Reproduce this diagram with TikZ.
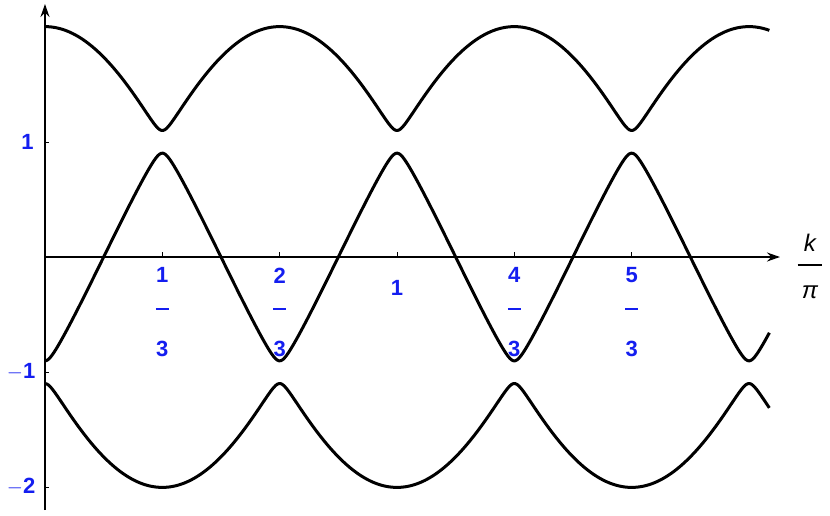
\documentclass[tikz,border=0pt]{standalone}
\usepackage{fontspec}
\setmainfont{Liberation Sans}
\usetikzlibrary{arrows.meta}
\definecolor{lblblue}{RGB}{20,30,240}
\begin{document}
\begin{tikzpicture}[x=352pt,y=115pt,
  band/.style={line width=3pt,black,line join=round},
  lbl/.style={text=lblblue,font=\fontsize{22}{24}\selectfont\bfseries,inner sep=0pt},
  fbar/.style={draw=lblblue,line width=2.4pt},
  declare function={
    fa(\x)=max(2*cos(180*\x),2*cos(180*\x+120),2*cos(180*\x+240));
    fc(\x)=min(2*cos(180*\x),2*cos(180*\x+120),2*cos(180*\x+240));
    fb(\x)=-fa(\x)-fc(\x);
    eone(\x)=(fa(\x)+fb(\x))/2+sqrt(((fa(\x)-fb(\x))/2)^2+0.01);
    ethree(\x)=(fb(\x)+fc(\x))/2-sqrt(((fb(\x)-fc(\x))/2)^2+0.01);
    etwo(\x)=-eone(\x)-ethree(\x);
  }]
\useasboundingbox (-0.1278,-2.2435) rectangle (2.2301,2.2348);
% axes
\coordinate (xe) at (2.088,0);
\coordinate (xs) at (0,0);
\coordinate (ys) at (0,-2.2);
\coordinate (ye) at (0,2.2);
\draw[line width=1.8pt,-{Stealth[length=13pt,width=9pt]}] (xs) -- (xe);
\draw[line width=1.8pt,-{Stealth[length=13pt,width=9pt]}] (ys) -- (ye);
% bands
\draw[band] plot[domain=0:2.06,samples=400,smooth] (\x,{eone(\x)});
\draw[band] plot[domain=0:2.06,samples=400,smooth] (\x,{etwo(\x)});
\draw[band] plot[domain=0:2.06,samples=400,smooth] (\x,{ethree(\x)});
% ticks
\foreach \t in {0.3333,0.6667,1,1.3333,1.6667}
  \draw[line width=1pt] (\t,0) -- (\t,0.04);
\foreach \t in {1,-1,-2}
  \draw[line width=1pt] (0,\t) -- (0.012,\t);
% y labels
\node[lbl] (y1) at (-0.05,1) {1};
\node[lbl] (ym1) at (-0.068,-1) {$-$1};
\node[lbl] (ym2) at (-0.068,-2) {$-$2};
% x labels
\foreach \xx/\n/\d in {0.3333/1/3,0.6667/2/3,1.3333/4/3,1.6667/5/3}{
  \node[lbl] at (\xx,-0.16) {\n};
  \draw[fbar] (\xx-0.018,-0.45) -- (\xx+0.018,-0.45);
  \node[lbl] at (\xx,-0.80) {\d};
}
\node[lbl] (x1) at (1,-0.27) {1};
% axis label k/pi
\node[inner sep=0pt,font=\fontsize{24}{26}\selectfont\itshape] (k) at (2.173,0.12) {k};
\draw[line width=1.4pt] (2.138,-0.07) -- (2.208,-0.07);
\node[inner sep=0pt,font=\fontsize{24}{26}\selectfont\itshape] (pi) at (2.173,-0.31) {π};
\end{tikzpicture}
\end{document}
